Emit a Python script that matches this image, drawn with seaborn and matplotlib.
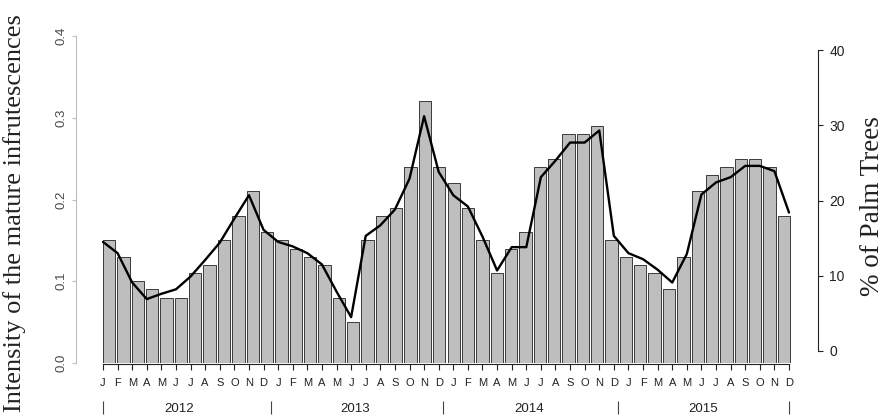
import numpy as np
import pandas as pd
import matplotlib
matplotlib.use("Agg")
import matplotlib.pyplot as plt
import seaborn as sns

# Monthly series, Jan 2012 - Dec 2015
month_letters = ["J", "F", "M", "A", "M", "J", "J", "A", "S", "O", "N", "D"]
years = ["2012", "2013", "2014", "2015"]

intensity = [0.15, 0.13, 0.10, 0.09, 0.08, 0.08, 0.11, 0.12, 0.15, 0.18, 0.21, 0.16,
             0.15, 0.14, 0.13, 0.12, 0.08, 0.05, 0.15, 0.18, 0.19, 0.24, 0.32, 0.24,
             0.22, 0.19, 0.15, 0.11, 0.14, 0.16, 0.24, 0.25, 0.28, 0.28, 0.29, 0.15,
             0.13, 0.12, 0.11, 0.09, 0.13, 0.21, 0.23, 0.24, 0.25, 0.25, 0.24, 0.18]

palm_pct = [14.5, 13.0, 9.1, 6.9, 7.6, 8.2, 9.9, 12.1, 14.4, 17.6, 20.7, 16.1,
            14.5, 13.9, 13.0, 11.5, 7.9, 4.5, 15.3, 16.7, 18.8, 22.9, 31.2, 23.8,
            20.7, 19.2, 15.2, 10.7, 13.8, 13.8, 23.1, 25.3, 27.7, 27.7, 29.3, 15.3,
            13.0, 12.2, 10.8, 9.1, 12.9, 20.8, 22.4, 23.1, 24.6, 24.6, 23.9, 18.4]

# year separators and year label centres on the month axis
year_edges = [0, 11.5, 23.3, 35.3, 47]
year_centers = [5.2, 17.3, 29.2, 41.1]

sns.set_theme(style="ticks")
plt.rcParams["font.family"] = ["Liberation Sans", "DejaVu Sans"]
SERIF = ["Liberation Serif", "DejaVu Serif"]

W, H = 885, 418
fig = plt.figure(figsize=(W / 100, H / 100), dpi=100)
fig.patch.set_facecolor("white")

# plot region in pixels
px_left, px_right, px_top, px_bottom = 76, 818, 36, 363
rect = [px_left / W, 1 - px_bottom / H, (px_right - px_left) / W, (px_bottom - px_top) / H]
ax_w, ax_h = px_right - px_left, px_bottom - px_top

n = len(intensity)

# ---- bars: intensity on the left axis ----
ax_bar = fig.add_axes(rect)
df = pd.DataFrame({"month": np.arange(n), "intensity": intensity})
bar_w = 0.86
sns.barplot(data=df, x="month", y="intensity", color="#bebebe", saturation=1,
            edgecolor="#3a3a3a", linewidth=0.7, width=bar_w, ax=ax_bar)
bar_first_px, bar_last_px = 103, 790
slot = (bar_last_px - bar_first_px) / (n - 1 + bar_w)
ax_bar.set_xlim(-bar_w / 2 - (bar_first_px - px_left) / slot,
                n - 1 + bar_w / 2 + (px_right - bar_last_px) / slot)
ax_bar.set_ylim(0, 0.4)
ax_bar.set_xticks([])
ax_bar.set_xlabel("")
for s in ["top", "right", "bottom"]:
    ax_bar.spines[s].set_visible(False)
ax_bar.spines["left"].set_bounds(0, 0.4)
ax_bar.spines["left"].set_color("#bdbdbd")
ax_bar.spines["left"].set_linewidth(0.8)
yt = [0.0, 0.1, 0.2, 0.3, 0.4]
ax_bar.set_yticks(yt)
ax_bar.set_yticklabels([f"{v:.1f}" for v in yt], rotation=90, va="center")
ax_bar.tick_params(axis="y", length=3.2, width=0.8, color="#bdbdbd",
                   labelcolor="#4a4a4a", labelsize=9.5, pad=3)
ax_bar.set_ylabel("Intensity of the mature infrutescences", family=SERIF,
                  fontsize=19, color="#222222", va="center", ha="center")
ax_bar.yaxis.set_label_coords((15 - px_left) / ax_w, (px_bottom - 213) / ax_h)

# ---- line: % of palm trees on the right axis ----
ax_line = fig.add_axes(rect)
ax_line.patch.set_alpha(0)
sns.lineplot(x=np.arange(n), y=palm_pct, color="black", linewidth=1.7, ax=ax_line)
tick_first_px, tick_last_px = 103, 789
step = (tick_last_px - tick_first_px) / (n - 1)
ax_line.set_xlim(-(tick_first_px - px_left) / step,
                 n - 1 + (px_right - tick_last_px) / step)
zero_px, forty_px = 351, 50
unit = (zero_px - forty_px) / 40
ax_line.set_ylim(-(px_bottom - zero_px) / unit, 40 + (forty_px - px_top) / unit)

for s in ["top", "left"]:
    ax_line.spines[s].set_visible(False)
ax_line.spines["right"].set_bounds(0, 40)
ax_line.spines["right"].set_color("#222222")
ax_line.spines["right"].set_linewidth(0.8)
ax_line.spines["bottom"].set_bounds(0, n - 1)
ax_line.spines["bottom"].set_color("#222222")
ax_line.spines["bottom"].set_linewidth(0.8)
ax_line.spines["bottom"].set_position(("outward", 1))

ax_line.yaxis.tick_right()
ax_line.yaxis.set_label_position("right")
ax_line.set_yticks([0, 10, 20, 30, 40])
ax_line.tick_params(axis="y", length=3.6, width=0.8, color="#222222",
                    labelcolor="#222222", labelsize=10, pad=4.5)
ax_line.set_ylabel("% of Palm Trees", family=SERIF, fontsize=19.5, color="#222222",
                   va="center", ha="center")
ax_line.yaxis.set_label_coords((873 - px_left) / ax_w, (px_bottom - 206) / ax_h)

ax_line.set_xticks(np.arange(n))
ax_line.set_xticklabels(month_letters * len(years))
ax_line.tick_params(axis="x", length=4.3, width=0.8, color="#222222",
                    labelcolor="#222222", labelsize=8, pad=5.5)
ax_line.set_xlabel("")

# ---- year band below the months ----
yr_axis_px = 401
yr = ax_line.secondary_xaxis((px_bottom - yr_axis_px) / ax_h)
yr.spines["bottom"].set_visible(False)
yr.set_xticks(year_edges)
yr.set_xticklabels([""] * len(year_edges))
yr.set_xticks(year_centers, minor=True)
yr.set_xticklabels(years, minor=True)
yr.tick_params(axis="x", which="major", length=9.4, width=0.8, color="#444444")
yr.tick_params(axis="x", which="minor", length=0, labelsize=9.5, labelcolor="#222222", pad=1.5)

fig.savefig("out.png", dpi=100, facecolor="white")
